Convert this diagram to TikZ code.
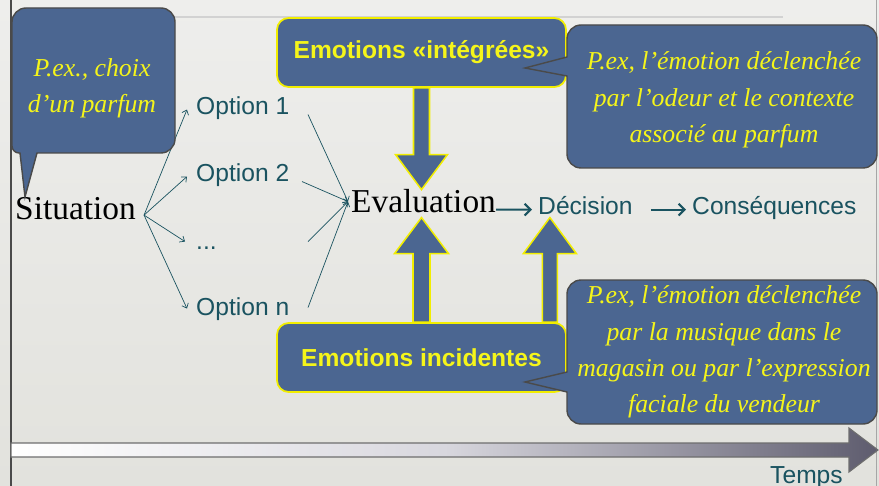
\documentclass[tikz,border=0pt]{standalone}
\usepackage{fontspec}
\setmainfont{Liberation Serif}
\newfontfamily\arialfont{Liberation Sans}
\usetikzlibrary{positioning,calc,arrows.meta}

\definecolor{boxblue}{HTML}{4B6691}
\definecolor{boxyellow}{HTML}{F2EE00}
\definecolor{txtyellow}{HTML}{F5F51A}
\definecolor{tealtxt}{HTML}{1A5360}
\definecolor{notegrey}{HTML}{4A4A4A}
\definecolor{bgtop}{HTML}{EEEEEC}
\definecolor{bgbottom}{HTML}{E2E2DD}
\definecolor{timemid}{HTML}{D8D7DE}
\definecolor{timedark}{HTML}{5E5C6E}

\begin{document}
\begin{tikzpicture}[x=0.03cm, y=-0.03cm,
serif_word/.style={inner sep=0pt, anchor=base west, font=\fontsize{28.5}{32}\selectfont},
sans_word/.style={inner sep=0pt, anchor=base west, text=tealtxt, font=\arialfont\fontsize{21}{25}\selectfont, text height=15pt, text depth=4pt},
emotion_box/.style={rectangle, rounded corners=10pt, draw=boxyellow, fill=boxblue, line width=1.5pt, text=txtyellow, font=\arialfont\bfseries\fontsize{21}{24}\selectfont, minimum width=8.67cm, minimum height=2.07cm},
note_shape/.style={fill=boxblue, draw=notegrey, line width=1.2pt},
note_text/.style={inner sep=0pt, align=center, text=txtyellow, font=\itshape\fontsize{22}{31}\selectfont},
block_arrow/.style={fill=boxblue, draw=boxyellow, line width=1.3pt},
thin_arrow/.style={-{Straight Barb[length=3.5pt, width=6pt]}, tealtxt, line width=0.6pt},
thick_arrow/.style={-{Straight Barb[length=5pt, width=10pt]}, tealtxt, line width=1.8pt}
]

% slide background
\useasboundingbox (0,0) rectangle (879,486);
\shade[top color=bgtop, bottom color=bgbottom] (0,0) rectangle (879,486);
\draw[notegrey, line width=1.7pt] (11,0) -- (11,486);
\draw[gray!70, line width=0.8pt] (876,0) -- (876,486);
\draw[gray!35, line width=1.2pt] (175,17) -- (783,17);

% decision chain
\node[serif_word] (situation) at (15,220) {Situation};
\node[sans_word] (opt1) at (196,115) {Option 1};
\node[sans_word] (opt2) at (196,182) {Option 2};
\node[sans_word] (optdots) at (196,250) {...};
\node[sans_word] (optn) at (196,315) {Option n};
\node[serif_word] (evaluation) at (351,213) {Evaluation};
\node[sans_word] (decision) at (538,215) {Décision};
\node[sans_word] (consequences) at (692,215) {Conséquences};

\draw[thin_arrow] ($(situation.east)+(8,6)$) -- ($(opt1.west)+(-9,1)$);
\draw[thin_arrow] ($(situation.east)+(8,6)$) -- ($(opt2.west)+(-9,1)$);
\draw[thin_arrow] ($(situation.east)+(8,6)$) -- ($(optdots.west)+(-11,-2)$);
\draw[thin_arrow] ($(situation.east)+(8,6)$) -- ($(optn.west)+(-9,0)$);

\draw[thin_arrow] ($(opt1.west)+(112,6)$) -- ($(evaluation.west)+(-3,0)$);
\draw[thin_arrow] ($(opt2.west)+(106,6)$) -- ($(evaluation.west)+(-3,0)$);
\draw[thin_arrow] ($(optdots.west)+(112,-2)$) -- ($(evaluation.west)+(-3,0)$);
\draw[thin_arrow] ($(optn.west)+(112,-1)$) -- ($(evaluation.west)+(-3,0)$);

\draw[thick_arrow] ($(evaluation.east)+(0,8)$) -- ($(decision.west)+(-6,1)$);
\draw[thick_arrow] ($(decision.east)+(18,1)$) -- ($(consequences.west)+(-6,1)$);

% emotions
\node[emotion_box] (integrees) at (421.5,52.5) {Emotions «intégrées»};
\node[emotion_box] (incidentes) at (421.5,357.5) {Emotions incidentes};

\coordinate (int_tip) at (integrees.south |- evaluation.north);
\coordinate (inc_tip_a) at ($(incidentes.north |- evaluation.south)+(0,4)$);
\coordinate (inc_tip_b) at ($(incidentes.north east |- evaluation.south)+(-17,4)$);

\draw[block_arrow] ($(integrees.south)+(-8,0)$) -- ($(int_tip)+(-8,-35)$) -- ++(-18,0) -- (int_tip) -- ++(26,-35) -- ++(-18,0) -- ($(integrees.south)+(8,0)$) -- cycle;
\draw[block_arrow] ($(incidentes.north)+(-8.5,0)$) -- ($(inc_tip_a)+(-8.5,36)$) -- ++(-18.5,0) -- (inc_tip_a) -- ++(27,36) -- ++(-18.5,0) -- ($(incidentes.north)+(8.5,0)$) -- cycle;
\draw[block_arrow] ($(incidentes.north east)+(-24.5,0)$) -- ($(inc_tip_b)+(-7.5,36)$) -- ++(-19,0) -- (inc_tip_b) -- ++(26.5,36) -- ++(-19,0) -- ($(incidentes.north east)+(-9.5,0)$) -- cycle;

% callouts
\filldraw[note_shape] (93,8) [rounded corners=12] -- (175,8) -- (175,153) [sharp corners] -- (37,153) -- (25,197) -- (20,153) [rounded corners=6] -- (12,153) [rounded corners=12] -- (12,8) -- cycle;
\node[note_text] (note_choice) at (92,88) {P.ex., choix\\d’un parfum};

\filldraw[note_shape] (722,25) [rounded corners=12] -- (877,25) -- (877,168) -- (567,168) [sharp corners] -- (567,76) -- (525,68) -- (567,57) [rounded corners=12] -- (567,25) -- cycle;
\node[note_text] (note_integrees) at (724,100) {P.ex, l’émotion déclenchée\\par l’odeur et le contexte\\associé au parfum};

\filldraw[note_shape] (722,280) [rounded corners=12] -- (877,280) -- (877,424) -- (567,424) [sharp corners] -- (567,392) -- (525,382) -- (567,372) [rounded corners=12] -- (567,280) -- cycle;
\node[note_text] (note_incidentes) at (724,352) {P.ex, l’émotion déclenchée\\par la musique dans le\\magasin ou par l’expression\\faciale du vendeur};

% time line
\shadedraw[left color=white, right color=timedark, middle color=timemid, draw=notegrey!80, line width=0.9pt] (11,443) -- (849,443) -- (849,428) -- (878,450) -- (849,472) -- (849,457) -- (11,457) -- cycle;
\node[sans_word] (temps) at (770,483) {Temps};

\end{tikzpicture}
\end{document}
